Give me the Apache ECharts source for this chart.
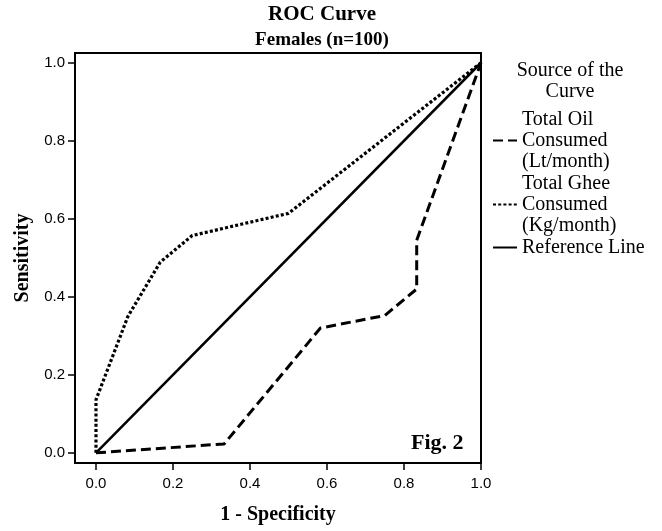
<!DOCTYPE html>
<html>
<head>
<meta charset="utf-8">
<script src="https://cdn.jsdelivr.net/npm/echarts@6/dist/echarts.min.js"></script>
<style>
html,body{margin:0;padding:0;background:#fff;}
#chart{width:662px;height:531px;}
</style>
</head>
<body>
<div id="chart"></div>
<script>
// ---- data ----
var tickValues = [0, 0.2, 0.4, 0.6, 0.8, 1.0];
var oilX = [0, 0.333, 0.583, 0.75, 0.833, 0.833, 1.0];
var oilY = [0, 0.023, 0.32, 0.352, 0.42, 0.545, 1.0];
var gheeX = [0, 0, 0.083, 0.167, 0.25, 0.5, 1.0];
var gheeY = [0, 0.136, 0.35, 0.489, 0.557, 0.614, 1.0];
var refX = [0, 1];
var refY = [0, 1];
var seriesNames = ['Total Oil\nConsumed\n(Lt/month)', 'Total Ghee\nConsumed\n(Kg/month)', 'Reference Line'];

function pairs(xs, ys) { return xs.map(function (x, i) { return [x, ys[i]]; }); }

var SERIF = '"Liberation Serif", "Times New Roman", serif';
var SANS = '"Liberation Sans", Arial, sans-serif';

var chart = echarts.init(document.getElementById('chart'), null, {renderer: 'canvas'});
var option = {
  backgroundColor: '#fff',
  animation: false,
  title: [
    {text: 'ROC Curve', left: 322, top: 4, padding: 0, textAlign: 'center',
     textStyle: {fontFamily: SERIF, fontWeight: 'bold', fontSize: 21, color: '#000'}},
    {text: 'Females (n=100)', left: 322, top: 31, padding: 0, textAlign: 'center',
     textStyle: {fontFamily: SERIF, fontWeight: 'bold', fontSize: 19, color: '#000'}},
    {text: 'Source of the\nCurve', left: 570, top: 60, padding: 0, textAlign: 'center',
     textStyle: {fontFamily: SERIF, fontWeight: 'normal', fontSize: 20, lineHeight: 21, color: '#000'}}
  ],
  legend: {
    orient: 'vertical', left: 492, top: 109, padding: 0, itemWidth: 24, itemHeight: 14, itemGap: 1,
    data: seriesNames,
    itemStyle: {opacity: 0, borderWidth: 0},
    textStyle: {fontFamily: SERIF, fontSize: 20, lineHeight: 21, color: '#000'}
  },
  grid: {left: 75, right: 181, top: 53, bottom: 68, show: true, borderColor: '#000', borderWidth: 2, containLabel: false},
  xAxis: {
    type: 'value', min: -0.0545, max: 1.0,
    name: '1 - Specificity', nameLocation: 'middle', nameGap: 42,
    nameTextStyle: {fontFamily: SERIF, fontWeight: 'bold', fontSize: 20, color: '#000'},
    axisLine: {show: true, onZero: false, lineStyle: {color: '#000', width: 2}},
    axisTick: {show: true, length: 7, customValues: tickValues, lineStyle: {color: '#000', width: 1.5}},
    axisLabel: {customValues: tickValues, margin: 13, fontFamily: SANS, fontSize: 15, color: '#000',
      formatter: function (v) { return v.toFixed(1); }},
    splitLine: {show: false}
  },
  yAxis: {
    type: 'value', min: -0.026, max: 1.025,
    name: 'Sensitivity', nameLocation: 'middle', nameGap: 42, nameRotate: 90,
    nameTextStyle: {fontFamily: SERIF, fontWeight: 'bold', fontSize: 20, color: '#000'},
    axisLine: {show: true, onZero: false, lineStyle: {color: '#000', width: 2}},
    axisTick: {show: true, length: 7, customValues: tickValues, lineStyle: {color: '#000', width: 1.5}},
    axisLabel: {customValues: tickValues, margin: 10, fontFamily: SANS, fontSize: 15, color: '#000',
      formatter: function (v) { return v.toFixed(1); }},
    splitLine: {show: false}
  },
  graphic: [
    {type: 'text', left: 411, top: 432, style: {text: 'Fig. 2', font: 'bold 22px ' + SERIF, fill: '#000'}}
  ],
  series: [
    {name: seriesNames[0], type: 'line', data: pairs(oilX, oilY), symbol: 'none', showSymbol: false,
     lineStyle: {color: '#000', width: 3, type: [10, 5]}, itemStyle: {color: '#000'}},
    {name: seriesNames[1], type: 'line', data: pairs(gheeX, gheeY), symbol: 'none', showSymbol: false,
     lineStyle: {color: '#000', width: 3.2, type: [3, 2.2]}, itemStyle: {color: '#000'}},
    {name: seriesNames[2], type: 'line', data: pairs(refX, refY), symbol: 'none', showSymbol: false,
     lineStyle: {color: '#000', width: 2.5, type: 'solid'}, itemStyle: {color: '#000'}}
  ]
};
chart.setOption(option);
</script>
</body>
</html>
